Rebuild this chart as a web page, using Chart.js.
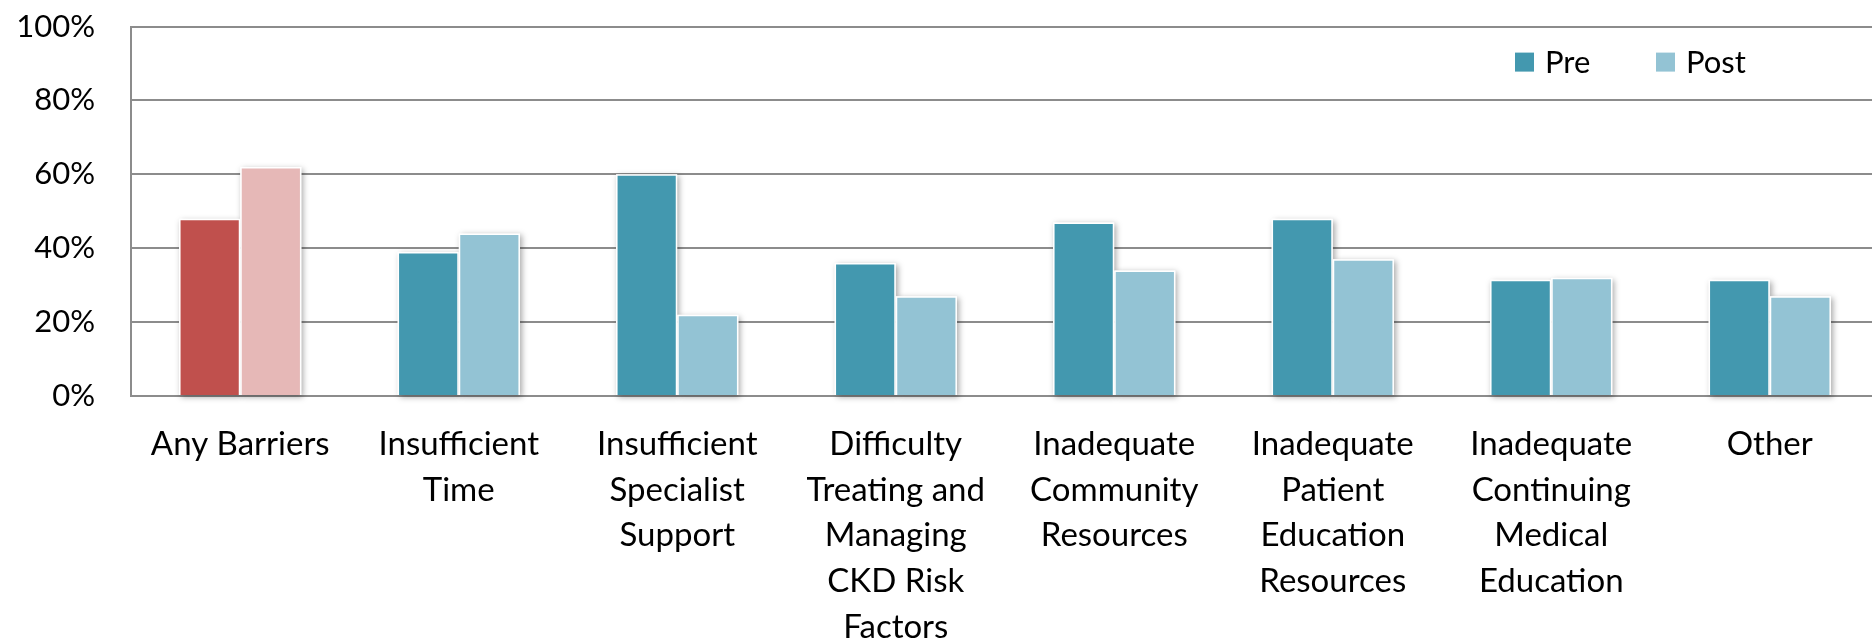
<!DOCTYPE html>
<html>
<head>
<meta charset="utf-8">
<script src="https://cdn.jsdelivr.net/npm/chart.js@4.4.1/dist/chart.umd.min.js"></script>
<style>
  html, body { margin: 0; padding: 0; background: #fff; overflow: hidden; }
  #wrap { position: relative; width: 1880px; height: 640px; }
</style>
</head>
<body>
<div id="wrap"><canvas id="chart"></canvas></div>
<script>
// categories (multi-line labels as in the original slide)
var categories = [
    'Any Barriers',
    ['Insufficient', 'Time'],
    ['Insufficient', 'Specialist', 'Support'],
    ['Difficulty', 'Treating and', 'Managing', 'CKD Risk', 'Factors'],
    ['Inadequate', 'Community', 'Resources'],
    ['Inadequate', 'Patient', 'Education', 'Resources'],
    ['Inadequate', 'Continuing', 'Medical', 'Education'],
    'Other'
];

// percent of respondents
var preValues  = [48, 39, 60, 36, 47, 48, 31.5, 31.5];
var postValues = [62, 44, 22, 27, 34, 37, 32, 27];

var yTicks = [0, 20, 40, 60, 80, 100];

// first group is highlighted in red
var preColors  = categories.map(function(c, i) { return i === 0 ? '#C0504D' : '#4398AF'; });
var postColors = categories.map(function(c, i) { return i === 0 ? '#E6B8B7' : '#93C3D4'; });

var FONT = 'Lato, "Noto Sans", sans-serif';

// soft drop shadow behind the bars
var barShadow = {
    id: 'barShadow',
    beforeDatasetsDraw: function(chart) {
        var ctx = chart.ctx;
        ctx.save();
        ctx.shadowColor = 'rgba(0,0,0,0.35)';
        ctx.shadowBlur = 6;
        ctx.shadowOffsetX = 2;
        ctx.shadowOffsetY = 2;
        ctx.fillStyle = '#fff';
        chart.data.datasets.forEach(function(ds, di) {
            chart.getDatasetMeta(di).data.forEach(function(bar) {
                var p = bar.getProps(['x', 'y', 'base', 'width'], true);
                ctx.fillRect(p.x - p.width / 2, p.y, p.width, p.base - p.y);
            });
        });
        ctx.restore();
    }
};

// legend drawn inside the plot, top right
var innerLegend = {
    id: 'innerLegend',
    afterDraw: function(chart) {
        var ctx = chart.ctx;
        var area = chart.chartArea;
        var legendColors = ['#4398AF', '#93C3D4'];
        var x = area.left + 1384;
        var y = area.top + 36;
        ctx.save();
        ctx.font = '31px ' + FONT;
        ctx.textBaseline = 'middle';
        ctx.fillStyle = '#000';
        chart.data.datasets.forEach(function(ds, i) {
            ctx.fillStyle = legendColors[i];
            ctx.fillRect(x, y - 10, 19, 19);
            ctx.fillStyle = '#000';
            ctx.fillText(ds.label, x + 30, y);
            x += 141;
        });
        ctx.restore();
    }
};

const ctx = document.getElementById('chart');

new Chart(ctx, {
    type: 'bar',
    data: {
        labels: categories,
        datasets: [
            {
                label: 'Pre',
                data: preValues,
                backgroundColor: preColors,
                borderColor: '#ffffff',
                borderWidth: 1.5
            },
            {
                label: 'Post',
                data: postValues,
                backgroundColor: postColors,
                borderColor: '#ffffff',
                borderWidth: 1.5
            }
        ]
    },
    plugins: [barShadow, innerLegend],
    options: {
        responsive: true,
        maintainAspectRatio: false,
        animation: false,
        layout: {
            padding: { top: 0, right: 1, left: 0, bottom: 0 }
        },
        datasets: {
            bar: {
                categoryPercentage: 0.56,
                barPercentage: 1.0
            }
        },
        plugins: {
            legend: { display: false },
            tooltip: { enabled: false }
        },
        scales: {
            x: {
                grid: { display: false },
                border: { color: '#8c8c8c', width: 2 },
                ticks: {
                    color: '#000',
                    padding: 18,
                    maxRotation: 0,
                    autoSkip: false,
                    font: { family: FONT, size: 33, lineHeight: 1.38 }
                },
                afterFit: function(scale) { scale.height = 244; }
            },
            y: {
                min: 0,
                max: 100,
                afterBuildTicks: function(scale) {
                    scale.ticks = yTicks.map(function(v) { return { value: v }; });
                },
                grid: { color: '#8c8c8c', lineWidth: 2, tickLength: 28, tickColor: 'rgba(0,0,0,0)' },
                border: { color: '#8c8c8c', width: 2 },
                ticks: {
                    color: '#000',
                    padding: 8,
                    font: { family: FONT, size: 31 },
                    callback: function(v) { return v + '%'; }
                },
                afterFit: function(scale) { scale.width = 131; }
            }
        }
    }
});
</script>
</body>
</html>
